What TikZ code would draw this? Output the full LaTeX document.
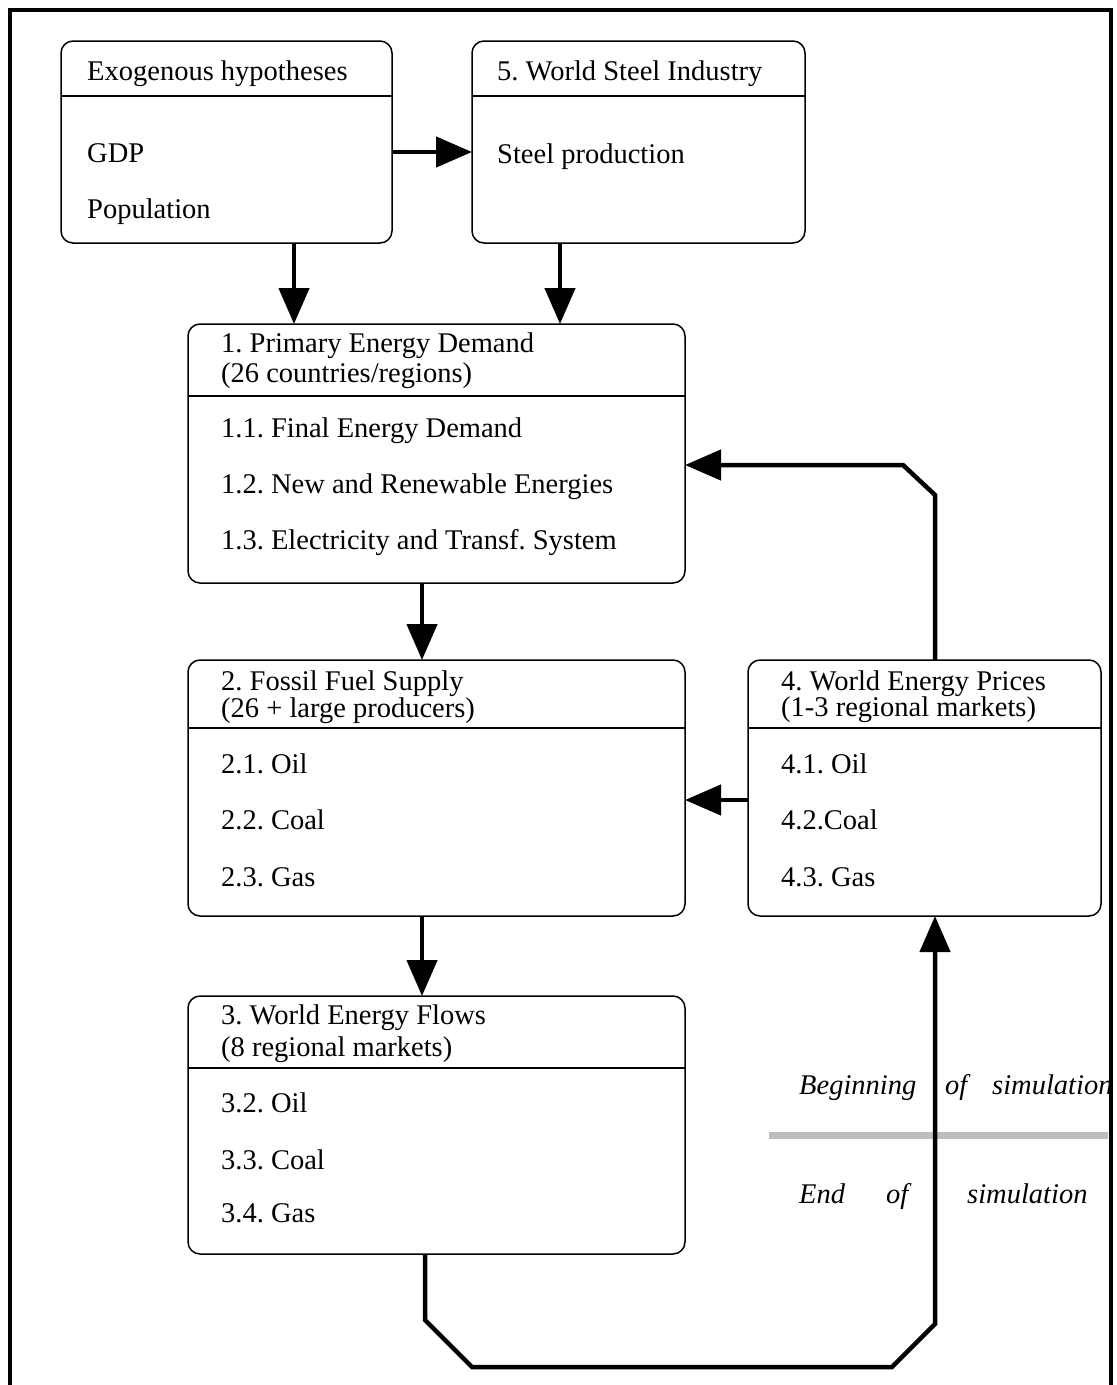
\documentclass[tikz,border=0pt]{standalone}
\usepackage{fontspec}
\setmainfont{Liberation Serif}
\usetikzlibrary{arrows.meta}
\definecolor{simgray}{RGB}{190,190,190}
\frenchspacing
\begin{document}
\begin{tikzpicture}[x=1pt,y=-1pt,
  box/.style={draw, line width=1.5pt, rounded corners=12pt, anchor=north west, inner sep=0pt, outer sep=0pt},
  txt/.style={anchor=base west, inner sep=0pt, font=\fontsize{28.5}{30}\selectfont\frenchspacing},
  itx/.style={anchor=base west, inner sep=0pt, font=\fontsize{28.5}{30}\selectfont\itshape},
  divider/.style={line width=1.5pt},
  conn/.style={line width=4.5pt},
  arr/.style={conn, -{Triangle[length=36pt,width=30pt]}},
]
\useasboundingbox (0,0) rectangle (1117,1385);

% boxes
\node[box, minimum width=331pt, minimum height=202pt] (exo) at (61,41) {};
\node[box, minimum width=333pt, minimum height=202pt] (steel) at (472,41) {};
\node[box, minimum width=497pt, minimum height=259pt] (pe) at (188,324) {};
\node[box, minimum width=497pt, minimum height=256pt] (ffs) at (188,660) {};
\node[box, minimum width=353pt, minimum height=256pt] (wep) at (748,660) {};
\node[box, minimum width=497pt, minimum height=258pt] (wef) at (188,996) {};

% dividers
\draw[divider] ([yshift=-55pt]exo.north west) -- ([yshift=-55pt]exo.north east);
\draw[divider] ([yshift=-55pt]steel.north west) -- ([yshift=-55pt]steel.north east);
\draw[divider] ([yshift=-72pt]pe.north west) -- ([yshift=-72pt]pe.north east);
\draw[divider] ([yshift=-68pt]ffs.north west) -- ([yshift=-68pt]ffs.north east);
\draw[divider] ([yshift=-68pt]wep.north west) -- ([yshift=-68pt]wep.north east);
\draw[divider] ([yshift=-72pt]wef.north west) -- ([yshift=-72pt]wef.north east);

% texts
\node[txt] (exo-t) at (87,80) {Exogenous hypotheses};
\node[txt] (exo-a) at (87,162) {GDP};
\node[txt] (exo-b) at (87,218) {Population};

\node[txt] (steel-t) at (497,80) {5. World Steel Industry};
\node[txt] (steel-a) at (497,163) {Steel production};

\node[txt] (pe-t1) at (221,352) {1. Primary Energy Demand};
\node[txt] (pe-t2) at (221,382) {(26 countries/regions)};
\node[txt] (pe-a) at (221,437) {1.1. Final Energy Demand};
\node[txt] (pe-b) at (221,493) {1.2. New and Renewable Energies};
\node[txt] (pe-c) at (221,549) {1.3. Electricity and Transf. System};

\node[txt] (ffs-t1) at (221,690) {2. Fossil Fuel Supply};
\node[txt] (ffs-t2) at (221,717) {(26 + large producers)};
\node[txt] (ffs-a) at (221,773) {2.1. Oil};
\node[txt] (ffs-b) at (221,829) {2.2. Coal};
\node[txt] (ffs-c) at (221,886) {2.3. Gas};

\node[txt] (wep-t1) at (781,690) {4. World Energy Prices};
\node[txt] (wep-t2) at (781,716) {(1-3 regional markets)};
\node[txt] (wep-a) at (781,773) {4.1. Oil};
\node[txt] (wep-b) at (781,829) {4.2.Coal};
\node[txt] (wep-c) at (781,886) {4.3. Gas};

\node[txt] (wef-t1) at (221,1024) {3. World Energy Flows};
\node[txt] (wef-t2) at (221,1056) {(8 regional markets)};
\node[txt] (wef-a) at (221,1112) {3.2. Oil};
\node[txt] (wef-b) at (221,1169) {3.3. Coal};
\node[txt] (wef-c) at (221,1222) {3.4. Gas};

% simulation labels
\draw[line width=7pt, simgray] (769,1135) -- (1108,1135);
\begin{scope}
\clip (0,0) rectangle (1109,1385);
\node[itx] (beg1) at (799,1094) {Beginning};
\node[itx] (beg2) at (945,1094) {of};
\node[itx] (beg3) at (992,1094) {simulation};
\end{scope}
\node[itx] (end1) at (799,1203) {End};
\node[itx] (end2) at (886,1203) {of};
\node[itx] (end3) at (967,1203) {simulation};

% connectors
\draw[arr] ([yshift=-10pt]exo.east) -- ([yshift=-10pt]steel.west);
\draw[arr] ([xshift=67.5pt]exo.south) -- ([xshift=-142.5pt]pe.north);
\draw[arr] ([xshift=-78.5pt]steel.south) -- ([xshift=123.5pt]pe.north);
\draw[arr] ([xshift=-14.5pt]pe.south) -- ([xshift=-14.5pt]ffs.north);
\draw[arr] ([xshift=-14.5pt]ffs.south) -- ([xshift=-14.5pt]wef.north);
\draw[arr] ([yshift=-12pt]wep.west) -- ([yshift=-12pt]ffs.east);
\draw[arr] ([xshift=10.5pt]wep.north) -- ++(0,-165) -- ++(-32,-30) -- ([yshift=-11.5pt]pe.east);
\draw[arr] ([xshift=-11.5pt]wef.south) -- ++(0,66) -- ++(47,47) -- ++(420,0) -- ++(43,-43) -- ([xshift=10.5pt]wep.south);

% outer frame (open at the bottom)
\draw[line width=3.5pt] (10,1390) -- (10,10) -- (1111,10) -- (1111,1390);
\end{tikzpicture}
\end{document}
